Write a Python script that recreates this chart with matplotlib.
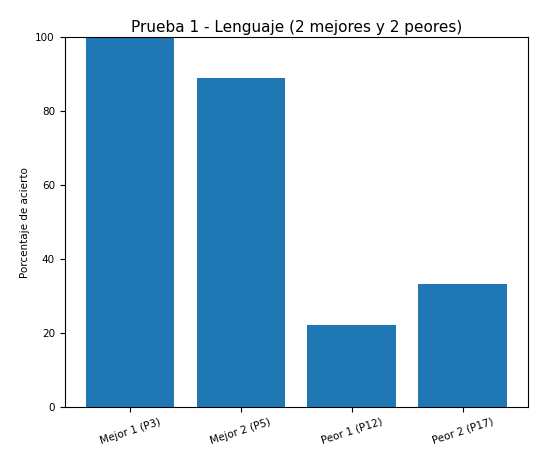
import matplotlib
matplotlib.use('Agg')
import matplotlib.pyplot as plt

categorias = ['Mejor 1 (P3)', 'Mejor 2 (P5)', 'Peor 1 (P12)', 'Peor 2 (P17)']
porcentajes = [100.0, 88.89, 22.22, 33.33]

fig = plt.figure(figsize=(5.57, 4.54), dpi=100)
ax = fig.add_axes([0.116, 0.1035, 0.832, 0.8145])
ax.bar(categorias, porcentajes, color='#1f77b4', width=0.8)
ax.set_ylim(0, 100)
ax.set_title('Prueba 1 - Lenguaje (2 mejores y 2 peores)', fontsize=11, pad=4)
ax.set_ylabel('Porcentaje de acierto', fontsize=7.5)
ax.tick_params(axis='both', labelsize=7.5)
plt.setp(ax.get_xticklabels(), rotation=18)
fig.savefig('out.png', dpi=100)
